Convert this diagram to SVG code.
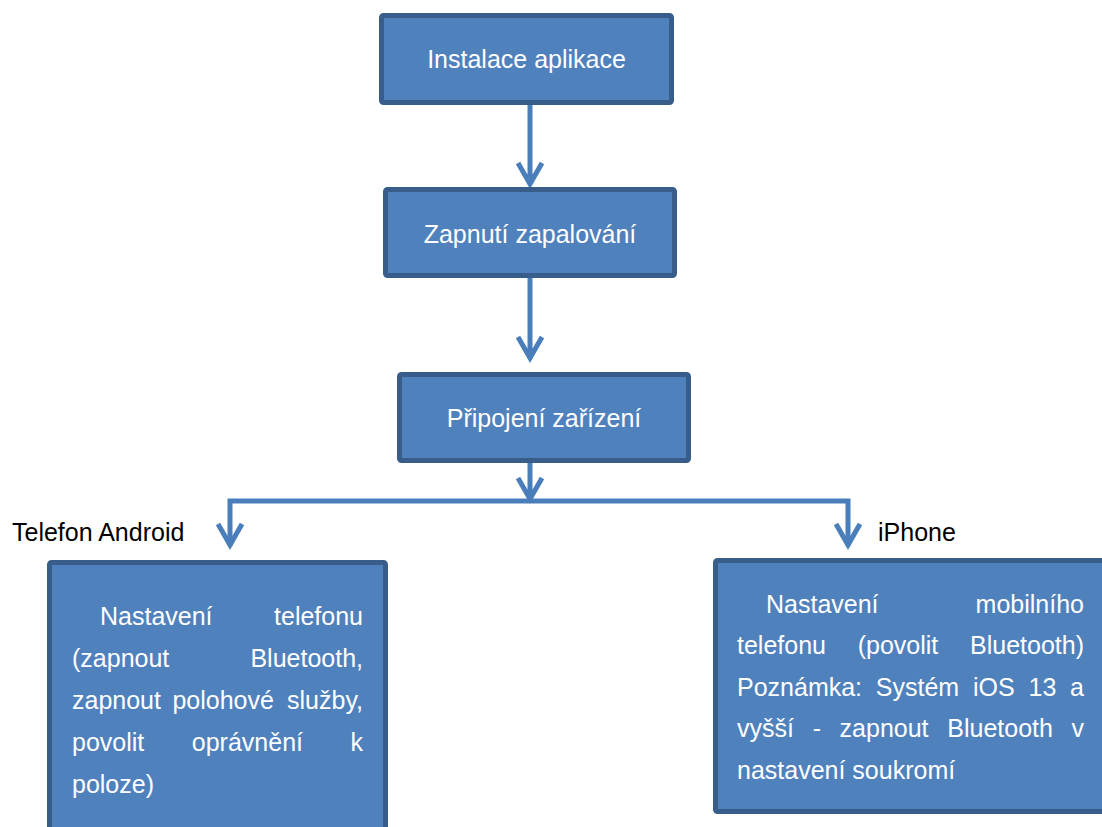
<svg xmlns="http://www.w3.org/2000/svg" width="1102" height="827" viewBox="0 0 1102 827">
<style>
.box{fill:#4F81BD;stroke:#385D8A;stroke-width:5}
.bt{font-family:"Liberation Sans",Arial,sans-serif;font-size:25px;fill:#FFFFFF}
.c{text-anchor:middle}
.e{text-anchor:end}
.lbl{font-family:"Liberation Sans",Arial,sans-serif;font-size:25px;fill:#000000}
.ln{fill:none;stroke:#4A7EBB;stroke-width:5;stroke-linejoin:miter}
</style>
<rect width="1102" height="827" fill="#FFFFFF"/>
<g id="connectors">
<path class="ln" d="M530 105 V185 M518 163 L530 184 L542 163"/>
<path class="ln" d="M530 278 V359 M518 337 L530 358 L542 337"/>
<path class="ln" d="M530 463 V500 M518 478 L530 499 L542 478"/>
<path class="ln" d="M230 546 V501 H848 V546"/>
<path class="ln" d="M218 524 L230 545 L242 524"/>
<path class="ln" d="M836 524 L848 545 L860 524"/>
</g>
<g id="node-instalace">
<rect class="box" x="381.5" y="15.5" width="290" height="87" rx="2"/>
<text class="bt c" x="526.5" y="68">Instalace aplikace</text>
</g>
<g id="node-zapnuti">
<rect class="box" x="385.5" y="189.5" width="289" height="86" rx="2"/>
<text class="bt c" x="530" y="243">Zapnutí zapalování</text>
</g>
<g id="node-pripojeni">
<rect class="box" x="399.5" y="374.5" width="289" height="86" rx="2"/>
<text class="bt c" x="544" y="427">Připojení zařízení</text>
</g>
<g id="label-android">
<text class="lbl" x="12" y="541">Telefon Android</text>
</g>
<g id="label-iphone">
<text class="lbl" x="878" y="541">iPhone</text>
</g>
<g id="node-android">
<rect class="box" x="49.5" y="562.5" width="336" height="280" rx="2"/>
<text class="bt" x="100" y="625">Nastavení</text>
<text class="bt e" x="363" y="625">telefonu</text>
<text class="bt" x="72" y="667">(zapnout</text>
<text class="bt e" x="363" y="667">Bluetooth,</text>
<text class="bt" x="72" y="709">zapnout</text>
<text class="bt" x="172.4" y="709">polohové</text>
<text class="bt e" x="363" y="709">služby,</text>
<text class="bt" x="72" y="751">povolit</text>
<text class="bt" x="191.8" y="751">oprávnění</text>
<text class="bt e" x="363" y="751">k</text>
<text class="bt" x="72" y="793">poloze)</text>
</g>
<g id="node-iphone">
<rect class="box" x="715.5" y="560.5" width="400" height="251" rx="2"/>
<text class="bt" x="766" y="613">Nastavení</text>
<text class="bt e" x="1084" y="613">mobilního</text>
<text class="bt" x="737" y="654">telefonu</text>
<text class="bt" x="857.7" y="654">(povolit</text>
<text class="bt e" x="1084" y="654">Bluetooth)</text>
<text class="bt" x="737" y="696">Poznámka:</text>
<text class="bt" x="875.8" y="696">Systém</text>
<text class="bt" x="973" y="696">iOS</text>
<text class="bt" x="1028.5" y="696">13</text>
<text class="bt e" x="1084" y="696">a</text>
<text class="bt" x="737" y="737">vyšší</text>
<text class="bt" x="812.7" y="737">-</text>
<text class="bt" x="839.6" y="737">zapnout</text>
<text class="bt" x="947.3" y="737">Bluetooth</text>
<text class="bt e" x="1084" y="737">v</text>
<text class="bt" x="737" y="779">nastavení soukromí</text>
</g>
</svg>
